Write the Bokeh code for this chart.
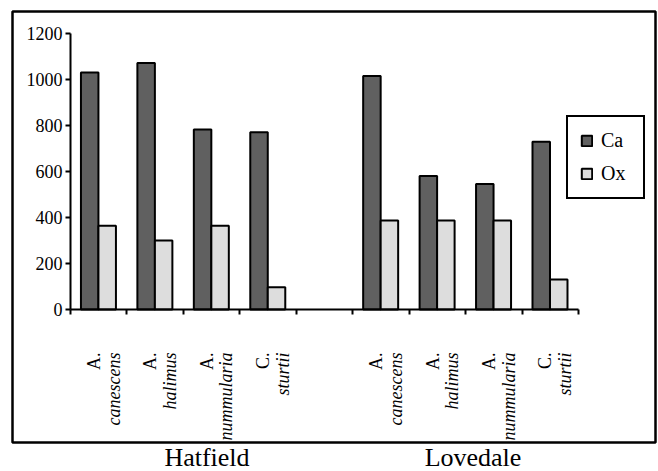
import math
from bokeh.plotting import figure
from bokeh.models import (Range1d, FixedTicker, ColumnDataSource, LabelSet,
                          Legend, LegendItem, BoxAnnotation, LinearAxis)
from bokeh.embed import file_html
from bokeh.resources import INLINE

# ---------------- data ----------------
sites = ["Hatfield", "Lovedale"]
genus = ["A.", "A.", "A.", "C."]
species = ["canescens", "halimus", "nummularia", "sturtii"]
ca_hatfield = [1030, 1072, 783, 771]
ox_hatfield = [364, 300, 364, 97]
ca_lovedale = [1015, 580, 546, 729]
ox_lovedale = [387, 387, 387, 130]
y_ticks = [0, 200, 400, 600, 800, 1000, 1200]
series_names = ["Ca", "Ox"]

FONT = "Liberation Serif"
CA_COLOR = "#606060"
OX_COLOR = "#dddddd"

n = len(species)
# category slots: 4 species, one empty gap slot, 4 species
slots = list(range(n)) + list(range(n + 1, 2 * n + 1))
n_slots = 2 * n + 1
ca = ca_hatfield + ca_lovedale
ox = ox_hatfield + ox_lovedale

# ---------------- layout (pixels) ----------------
W, H = 658, 471
AX_X0, AX_X1 = 70.0, 578.0      # x pixel of category boundary 0 and 9
AX_Y0, AX_Y1 = 309.0, 33.0      # y pixel of value 0 and 1200
ux = (AX_X1 - AX_X0) / n_slots
uy = (AX_Y0 - AX_Y1) / max(y_ticks)


def dx(px):
    return (px - AX_X0) / ux


def dy(py):
    return (AX_Y0 - py) / uy


p = figure(width=W, height=H, min_border=0,
           x_range=Range1d(dx(0), dx(W)), y_range=Range1d(dy(H), dy(0)),
           x_axis_location=None, y_axis_location=None,
           output_backend="svg", toolbar_location=None,
           background_fill_color="white", border_fill_color="white")
p.outline_line_color = None
p.xgrid.visible = False
p.ygrid.visible = False

src = ColumnDataSource(dict(
    x_ca=[s + 0.34 for s in slots],
    x_ox=[s + 0.65 for s in slots],
    ca=ca, ox=ox,
))
r_ca = p.vbar(x="x_ca", top="ca", width=0.31, source=src,
              fill_color=CA_COLOR, line_color="black", line_width=2)
r_ox = p.vbar(x="x_ox", top="ox", width=0.31, source=src,
              fill_color=OX_COLOR, line_color="black", line_width=2)

# y axis
yax = LinearAxis(fixed_location=0, bounds=(0, max(y_ticks)),
                 ticker=FixedTicker(ticks=y_ticks))
yax.minor_tick_line_color = None
yax.major_tick_in = 0
yax.major_tick_out = 5
yax.axis_line_width = 2
yax.major_tick_line_width = 2
yax.major_label_text_font = FONT
yax.major_label_text_font_size = "18px"
yax.major_label_text_color = "black"
yax.major_label_standoff = 3
p.add_layout(yax, "left")

# x axis: ticks at category boundaries, labels drawn separately
xax = LinearAxis(fixed_location=0, bounds=(0, n_slots),
                 ticker=FixedTicker(ticks=list(range(0, n_slots + 1))))
xax.minor_tick_line_color = None
xax.major_tick_in = 0
xax.major_tick_out = 5
xax.axis_line_width = 2
xax.major_tick_line_width = 2
xax.major_label_overrides = {i: "" for i in range(0, n_slots + 1)}
p.add_layout(xax, "below")

# category labels (rotated, two lines)
lab_src = ColumnDataSource(dict(
    x_genus=[s + 0.52 for s in slots],
    x_species=[s + 0.87 for s in slots],
    y=[dy(352)] * len(slots),
    genus=genus + genus,
    species=species + species,
))
p.add_layout(LabelSet(x="x_genus", y="y", text="genus", source=lab_src,
                      angle=math.pi / 2, text_align="right",
                      text_baseline="alphabetic", text_font=FONT,
                      text_font_size="18px", text_color="black"))
p.add_layout(LabelSet(x="x_species", y="y", text="species", source=lab_src,
                      angle=math.pi / 2, text_align="right",
                      text_baseline="alphabetic", text_font=FONT,
                      text_font_style="italic",
                      text_font_size="18px", text_color="black"))

# site labels
site_src = ColumnDataSource(dict(x=[dx(206.5), dx(472.5)],
                                 y=[dy(465), dy(465)], text=sites))
p.add_layout(LabelSet(x="x", y="y", text="text", source=site_src,
                      text_align="center", text_baseline="alphabetic",
                      text_font=FONT, text_font_size="26px",
                      text_color="black"))

# outer chart border
p.add_layout(BoxAnnotation(left=dx(12), right=dx(655), top=dy(11), bottom=dy(442),
                           fill_alpha=0, fill_color=None,
                           line_color="black", line_width=2.5, line_alpha=1))

legend = Legend(items=[LegendItem(label=series_names[0], renderers=[r_ca]),
                       LegendItem(label=series_names[1], renderers=[r_ox])],
                location=(566, H - 199), padding=12, spacing=10,
                label_height=23, glyph_height=13, glyph_width=13,
                label_standoff=8, label_width=30, margin=0,
                border_line_color="black", border_line_width=2,
                border_line_alpha=1,
                background_fill_color="white", background_fill_alpha=1,
                label_text_font=FONT, label_text_font_size="20px",
                label_text_color="black")
p.add_layout(legend, "center")

open("out.html", "w").write(file_html(p, INLINE))
